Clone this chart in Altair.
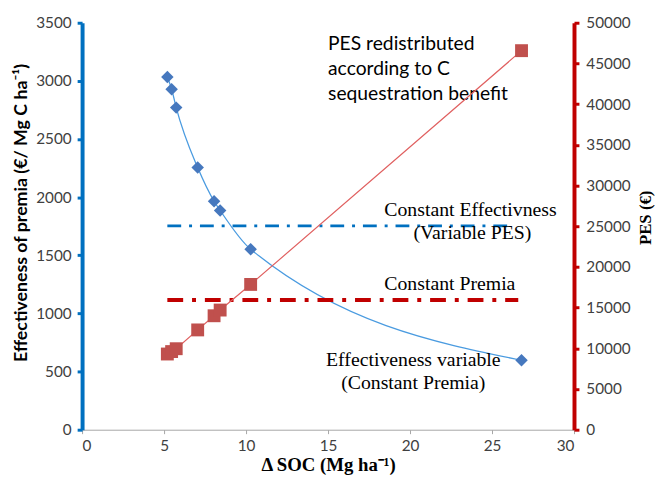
import altair as alt
import pandas as pd

# ---- data ----
soc = [5.2, 5.46, 5.74, 7.05, 8.05, 8.42, 10.28, 26.8]
effectiveness = [3033, 2929, 2770, 2254, 1965, 1886, 1552, 597]
pes = [9300, 9600, 9950, 12260, 14000, 14700, 17850, 46570]

const_eff_x = [5.2, 26.2]
const_eff_y = [1753, 1753]
const_prem_x = [5.2, 26.6]
const_prem_pes = [15930, 15930]

x_ticks = [0, 5, 10, 15, 20, 25, 30]
left_ticks = [0, 500, 1000, 1500, 2000, 2500, 3000, 3500]
right_ticks = [0, 5000, 10000, 15000, 20000, 25000, 30000, 35000, 40000, 45000, 50000]

sans_text = ["PES redistributed", "according to  C", "sequestration benefit"]
sans_x = [15.0, 15.0, 15.0]
sans_y = [3313, 3101, 2889]

serif_left_text = ["Constant Effectivness", "Constant Premia"]
serif_left_x = [18.43, 18.43]
serif_left_y = [1886, 1249]

serif_center_text = ["(Variable PES)", "Effectiveness variable", "(Constant Premia)"]
serif_center_x = [23.8, 20.2, 20.2]
serif_center_y = [1691, 603, 399]

# ---- tables ----
pts = pd.DataFrame({"x": soc, "y": effectiveness, "p": pes})
ceff = pd.DataFrame({"x": const_eff_x, "y": const_eff_y})
cprem = pd.DataFrame({"x": const_prem_x, "p": const_prem_pes})
t_sans = pd.DataFrame({"x": sans_x, "y": sans_y, "t": sans_text})
t_sl = pd.DataFrame({"x": serif_left_x, "y": serif_left_y, "t": serif_left_text})
t_sc = pd.DataFrame({"x": serif_center_x, "y": serif_center_y, "t": serif_center_text})

SANS = "Lato"
SERIF = "Liberation Serif"

X = alt.X("x:Q", scale=alt.Scale(domain=[0, 30], nice=False, zero=False),
          axis=alt.Axis(values=x_ticks, format="d", title="Δ SOC (Mg ha⁻¹)", grid=False,
                        domainColor="#A6A6A6", domainWidth=1, tickColor="#A6A6A6",
                        tickSize=4, labelPadding=5, labelFont=SANS, labelFontSize=15.5,
                        labelColor="#404040", titleFont=SERIF, titleFontSize=19,
                        titleFontWeight="bold", titleColor="black", titlePadding=2))

left_axis = alt.Axis(values=left_ticks, format="d", title="Effectiveness of premia (€/ Mg C ha⁻¹)",
                     grid=False, orient="left", domainColor="#0070C0", domainWidth=4,
                     tickColor="#0070C0", tickWidth=3, tickSize=5, labelPadding=6,
                     labelFont=SANS, labelFontSize=15.5, labelColor="#404040",
                     titleFont=SANS, titleFontSize=18, titleFontWeight="bold",
                     titleColor="black", titlePadding=5, titleY=192)
left_scale = alt.Scale(domain=[0, 3500], nice=False)

right_axis = alt.Axis(values=right_ticks, format="d", title="PES (€)", grid=False, orient="right",
                      domainColor="#C00000", domainWidth=4, tickColor="#C00000",
                      tickWidth=3, tickSize=5, labelPadding=7, labelFont=SANS,
                      labelFontSize=15.5, labelColor="#404040", titleFont=SERIF,
                      titleFontSize=17, titleFontWeight="bold", titleColor="black",
                      titleAngle=270, titleAlign="center", titleBaseline="middle",
                      titleX=72, titleY=197)
right_scale = alt.Scale(domain=[0, 50000], nice=False)

YL = alt.Y("y:Q", scale=left_scale, axis=left_axis)
YR = alt.Y("p:Q", scale=right_scale, axis=right_axis)

curve = alt.Chart(pts).mark_line(interpolate="monotone", color="#4A9BE0", strokeWidth=1.3).encode(x=X, y=YL)
diamonds = alt.Chart(pts).mark_point(shape="diamond", filled=True, size=160, color="#4678BE", opacity=1).encode(x=X, y=YL)
eff_line = alt.Chart(ceff).mark_line(color="#0070C0", strokeWidth=3, strokeDash=[14, 8, 3, 8]).encode(x=X, y=YL)
txt_sans = alt.Chart(t_sans).mark_text(font=SANS, fontSize=19.5, align="left", baseline="middle", color="black").encode(x=X, y=YL, text="t:N")
txt_sl = alt.Chart(t_sl).mark_text(font=SERIF, fontSize=20, align="left", baseline="middle", color="black").encode(x=X, y=YL, text="t:N")
txt_sc = alt.Chart(t_sc).mark_text(font=SERIF, fontSize=20, align="center", baseline="middle", color="black").encode(x=X, y=YL, text="t:N")

left = alt.layer(eff_line, curve, diamonds, txt_sans, txt_sl, txt_sc)

red_line = alt.Chart(pts).mark_line(color="#E06060", strokeWidth=1.2).encode(x=X, y=YR)
squares = alt.Chart(pts).mark_square(size=170, color="#C0504D", opacity=1).encode(x=X, y=YR)
prem_line = alt.Chart(cprem).mark_line(color="#C00000", strokeWidth=4, strokeDash=[16, 9, 4, 9]).encode(x=X, y=YR)

right = alt.layer(prem_line, red_line, squares)

chart = alt.layer(left, right).resolve_scale(y="independent").properties(
    width=498, height=412,
    autosize=alt.AutoSizeParams(type="none"),
    padding={"left": 75, "top": 12, "right": 82, "bottom": 49},
).configure_view(stroke=None)

chart.save("out.html", embed_options={"renderer": "svg", "actions": False})
